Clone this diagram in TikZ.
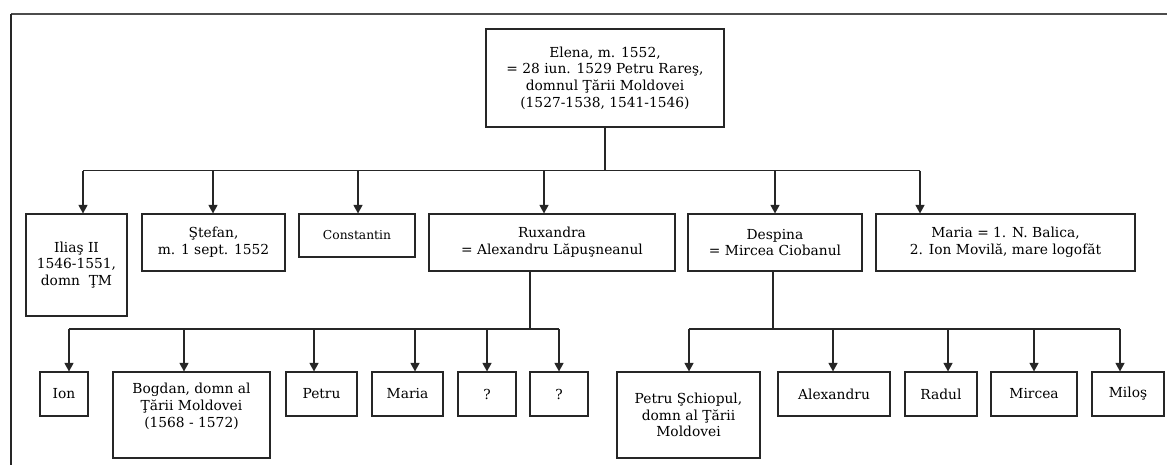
\documentclass[tikz,border=0pt]{standalone}
\usepackage{fontspec}
\setmainfont{DejaVu Serif}
\usetikzlibrary{arrows.meta}
\colorlet{lnx}{black!85}
\colorlet{frx}{black!70}
\tikzset{
    pers/.style={draw=lnx,line width=1.1pt,inner sep=0pt,align=center,font=\fontsize{13.8}{16.7}\selectfont},
    drop/.style={lnx,line width=1.2pt,-{Triangle[width=9pt,length=8.5pt]}},
    bus/.style={lnx,line width=1.2pt}
}

\begin{document}
\begin{tikzpicture}[x=1pt,y=-1pt]
            \useasboundingbox (0,0) rectangle (1167,465);
            \draw[frx,line width=2.6pt] (11,14) -- (1167,14);
            \draw[lnx,line width=1.4pt] (11,14) -- (11,465);
            \node[pers,minimum width=238,minimum height=98] (elena) at (605,78)
                {Elena, m. 1552,\\= 28 iun. 1529 Petru Rareş,\\domnul Ţării Moldovei\\(1527-1538, 1541-1546)};
            \node[pers,minimum width=101,minimum height=102] (ilias) at (76.5,265) {Iliaş II\\1546-1551,\\domn ~ŢM};
            \node[pers,minimum width=143,minimum height=57] (stefan) at (213.5,242.5) {Ştefan,\\m. 1 sept. 1552};
            \node[pers,minimum width=116,minimum height=43,font=\fontsize{12.3}{15}\selectfont] (const) at (357,235.5) {Constantin};
            \node[pers,minimum width=246,minimum height=57] (ruxandra) at (552,242.5) {Ruxandra\\= Alexandru Lăpuşneanul};
            \node[pers,minimum width=174,minimum height=57] (despina) at (775,242.5) {Despina\\= Mircea Ciobanul};
            \node[pers,minimum width=259,minimum height=57] (mariaa) at (1005.5,242.5) {Maria = 1. N. Balica,\\2. Ion Movilă, mare logofăt};
            \node[pers,minimum width=48,minimum height=44] (ion) at (64,394) {Ion};
            \node[pers,minimum width=157,minimum height=86] (bogdan) at (191.5,415) {Bogdan, domn al\\Ţării Moldovei\\(1568 - 1572)\\[3pt]};
            \node[pers,minimum width=71,minimum height=44] (petru) at (321.5,394) {Petru};
            \node[pers,minimum width=71,minimum height=44] (mariab) at (407.5,394) {Maria};
            \node[pers,minimum width=58,minimum height=44] (qa) at (487,394) {?};
            \node[pers,minimum width=58,minimum height=44] (qb) at (559,394) {?};
            \node[pers,minimum width=143,minimum height=86] (petrus) at (688.5,415) {Petru Şchiopul,\\domn al Ţării\\Moldovei};
            \node[pers,minimum width=112,minimum height=44] (alex) at (834,394) {Alexandru};
            \node[pers,minimum width=72,minimum height=44] (radul) at (941,394) {Radul};
            \node[pers,minimum width=86,minimum height=44] (mircea) at (1034,394) {Mircea};
            \node[pers,minimum width=72,minimum height=44] (milos) at (1128,394) {Miloş};
            \foreach \n/\x in {ilias/83,stefan/213,const/358,ruxandra/544,despina/775,mariaa/920} {
                \coordinate (t\n) at (\x,170.7);
                \draw[drop] (t\n) -- (t\n |- \n.north);
            }
            \foreach \n/\x in {ion/69,bogdan/184,petru/314,mariab/415,qa/487,qb/559,
                               petrus/689,alex/833,radul/948,mircea/1034,milos/1120} {
                \coordinate (t\n) at (\x,329);
                \draw[drop] (t\n) -- (t\n |- \n.north);
            }
            \draw[bus] (elena.south) -- (elena.south |- tilias);
            \draw[bus] (tilias) -- (tmariaa);
            \coordinate (rx) at (530,329);
            \coordinate (dx) at (773,329);
            \draw[bus] (rx |- ruxandra.south) -- (rx);
            \draw[bus] (dx |- despina.south) -- (dx);
            \draw[bus] (tion) -- (tqb);
            \draw[bus] (tpetrus) -- (tmilos);
        \end{tikzpicture}
\end{document}
